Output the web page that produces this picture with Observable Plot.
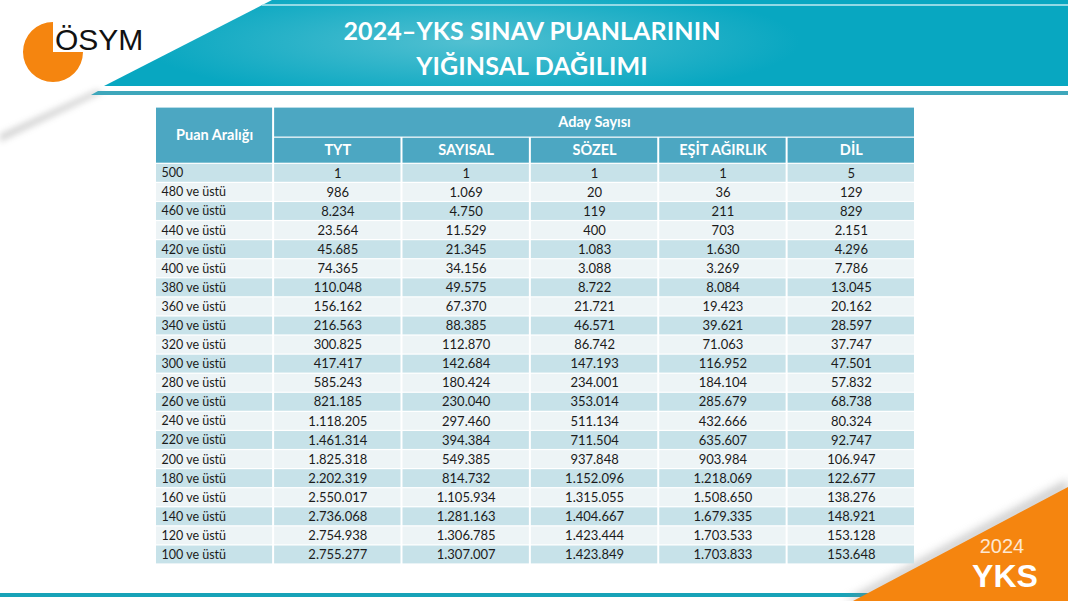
<!DOCTYPE html>
<html><head><meta charset="utf-8">
<script src="https://cdn.jsdelivr.net/npm/d3@7"></script>
<script src="https://cdn.jsdelivr.net/npm/@observablehq/plot@0.6"></script>
<style>
html,body{margin:0;padding:0;background:#fff;}
#slide{position:relative;width:1068px;height:601px;overflow:hidden;background:#fff;font-family:Lato,"Open Sans",sans-serif;}
#decor{position:absolute;left:0;top:0;}
#title{position:absolute;left:-2px;top:13px;width:1068px;text-align:center;color:#fff;font-weight:700;font-size:25px;line-height:35px;letter-spacing:0.1px;}
#table{position:absolute;left:155px;top:107px;}
</style>
</head><body>
<div id="slide">
<svg id="decor" width="1068" height="601" viewBox="0 0 1068 601">
  <defs>
    <radialGradient id="bg" cx="470" cy="42" r="330" gradientUnits="userSpaceOnUse" gradientTransform="translate(470 42) scale(1 0.18) translate(-470 -42)">
      <stop offset="0" stop-color="#52c0d1"/>
      <stop offset="1" stop-color="#08a7c1"/>
    </radialGradient>
    <filter id="blur" x="-20%" y="-20%" width="140%" height="140%"><feGaussianBlur stdDeviation="3"/></filter>
    <filter id="blur2" x="-20%" y="-20%" width="140%" height="140%"><feGaussianBlur stdDeviation="5"/></filter>
  </defs>
  <!-- shadow of banner diagonal -->
  <polygon points="0,134 96,90 104,92 0,142" fill="#a0a0a0" opacity="0.45" filter="url(#blur)"/>
  <!-- banner -->
  <polygon points="272,0 1068,0 1068,86 104,86" fill="url(#bg)"/>
  <line x1="262" y1="5" x2="1068" y2="5" stroke="#bfeaf1" stroke-width="1.5"/>
  <polygon points="98,91 1068,91 1068,95 91,95" fill="#3ea7bb"/>
  <!-- logo -->
  <path d="M53,52 L53,22 A30,30 0 1,0 83,52 Z" fill="#f5850f"/>
  <text x="55" y="50" font-family="Liberation Sans, Arial, sans-serif" font-size="30" fill="#111">ÖSYM</text>
  <!-- bottom decor -->
  <rect x="0" y="593" width="880" height="4" fill="#17a3b8"/>
  <polygon points="845,601 1068,480 1068,490 860,601" fill="#888" opacity="0.5" filter="url(#blur2)"/>
  <polygon points="853,601 1068,487 1068,601" fill="#f5850f"/>
  <text x="1002" y="553" text-anchor="middle" font-family="Liberation Sans, Arial, sans-serif" font-size="20" fill="#fde8d2">2024</text>
  <text x="1005" y="587" text-anchor="middle" font-family="Liberation Sans, Arial, sans-serif" font-weight="bold" font-size="32" fill="#ffffff">YKS</text>
</svg>
<div id="title">2024–YKS SINAV PUANLARININ<br>YIĞINSAL DAĞILIMI</div>
<div id="table"></div>
</div>
<script>
// ---- data ----
const rowHeader = "Puan Aralığı";
const groupHeader = "Aday Sayısı";
const seriesNames = ["TYT", "SAYISAL", "SÖZEL", "EŞİT AĞIRLIK", "DİL"];
const ranges = ["500","480 ve üstü","460 ve üstü","440 ve üstü","420 ve üstü","400 ve üstü","380 ve üstü","360 ve üstü","340 ve üstü","320 ve üstü","300 ve üstü","280 ve üstü","260 ve üstü","240 ve üstü","220 ve üstü","200 ve üstü","180 ve üstü","160 ve üstü","140 ve üstü","120 ve üstü","100 ve üstü"];
const tyt = [1,986,8234,23564,45685,74365,110048,156162,216563,300825,417417,585243,821185,1118205,1461314,1825318,2202319,2550017,2736068,2754938,2755277];
const sayisal = [1,1069,4750,11529,21345,34156,49575,67370,88385,112870,142684,180424,230040,297460,394384,549385,814732,1105934,1281163,1306785,1307007];
const sozel = [1,20,119,400,1083,3088,8722,21721,46571,86742,147193,234001,353014,511134,711504,937848,1152096,1315055,1404667,1423444,1423849];
const esitAgirlik = [1,36,211,703,1630,3269,8084,19423,39621,71063,116952,184104,285679,432666,635607,903984,1218069,1508650,1679335,1703533,1703833];
const dil = [5,129,829,2151,4296,7786,13045,20162,28597,37747,47501,57832,68738,80324,92747,106947,122677,138276,148921,153128,153648];
const seriesValues = [tyt, sayisal, sozel, esitAgirlik, dil];

// ---- layout (in column / row units) ----
const firstColW = 0.92, h1 = 1.58, h2 = 1.37;
const totalW = firstColW + seriesNames.length;
const totalH = h1 + h2 + ranges.length;

const fmt = d3.formatLocale({decimal: ",", thousands: ".", grouping: [3], currency: ["", ""]}).format(",d");

const cells = [];
cells.push({x1: 0, x2: firstColW, y1: 0, y2: h1 + h2, kind: "head", label: rowHeader});
cells.push({x1: firstColW, x2: totalW, y1: 0, y2: h1, kind: "head", label: groupHeader});
seriesNames.forEach((s, j) => cells.push({x1: firstColW + j, x2: firstColW + j + 1, y1: h1, y2: h1 + h2, kind: "head", label: s}));
ranges.forEach((r, i) => {
  const y1 = h1 + h2 + i, y2 = y1 + 1, kind = i % 2 === 0 ? "dark" : "light";
  cells.push({x1: 0, x2: firstColW, y1, y2, kind, label: r, first: true});
  seriesValues.forEach((vals, j) => cells.push({x1: firstColW + j, x2: firstColW + j + 1, y1, y2, kind, label: fmt(vals[i])}));
});
const headCells = cells.filter(d => d.kind === "head");
const bodyCells = cells.filter(d => d.kind !== "head");

const chart = Plot.plot({
  width: 760,
  height: 457,
  margin: 0,
  x: {domain: [0, totalW], axis: null},
  y: {domain: [0, totalH], axis: null, reverse: true},
  color: {domain: ["head", "dark", "light"], range: ["#4ca7c2", "#c7e2e9", "#edf4f6"]},
  style: {fontFamily: "Lato, 'Open Sans', sans-serif", fontSize: "12px", background: "transparent"},
  marks: [
    Plot.rect(cells, {x1: "x1", x2: "x2", y1: "y1", y2: "y2", fill: "kind", insetLeft: 1, insetRight: 1, insetTop: 0.6, insetBottom: 0.6}),
    Plot.text(headCells, {x: d => (d.x1 + d.x2) / 2, y: d => (d.y1 + d.y2) / 2, text: "label", fill: "#ffffff", fontWeight: "bold", fontSize: 14.5}),
    Plot.text(bodyCells.filter(d => d.first), {x: "x1", y: d => (d.y1 + d.y2) / 2, text: "label", textAnchor: "start", dx: 6, fill: "#1b1b1b", fontSize: 12.5}),
    Plot.text(bodyCells.filter(d => !d.first), {x: d => (d.x1 + d.x2) / 2, y: d => (d.y1 + d.y2) / 2, text: "label", fill: "#1b1b1b", fontSize: 13})
  ]
});
document.getElementById("table").appendChild(chart);
</script>
</body></html>
